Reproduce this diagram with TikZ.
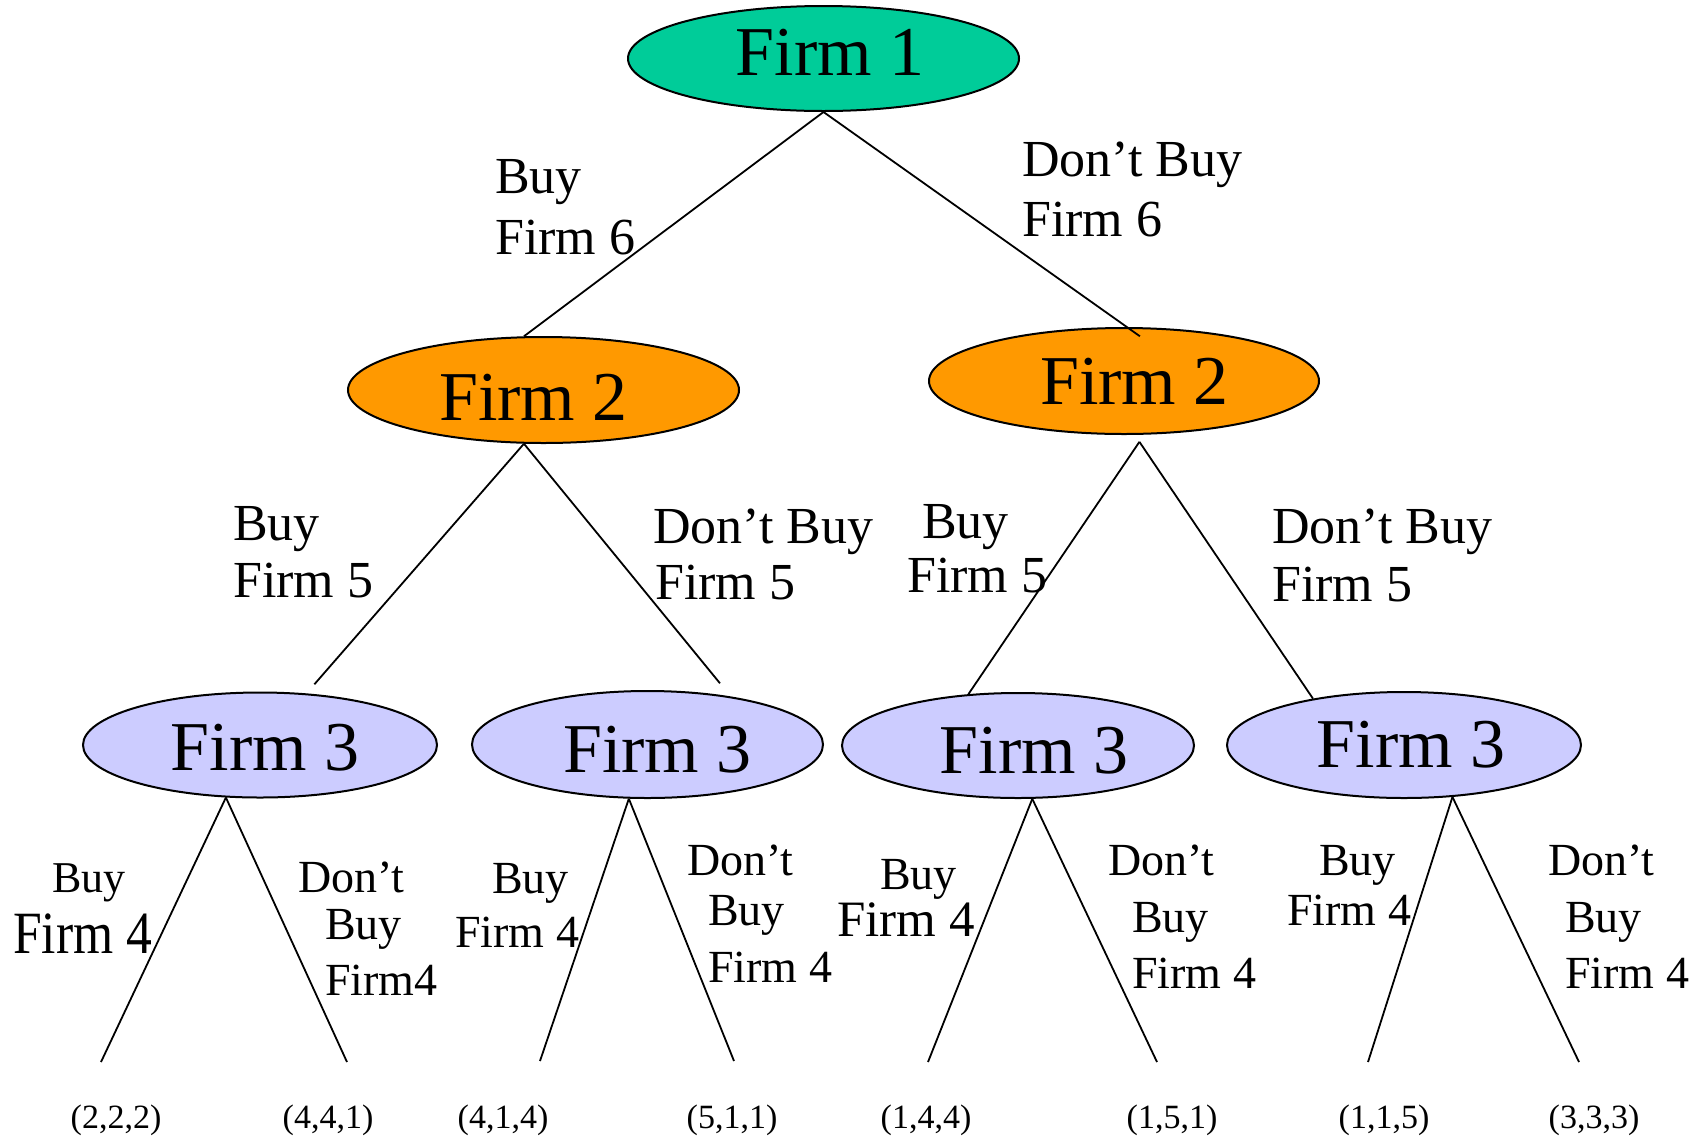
\documentclass[tikz,border=0pt]{standalone}
\usepackage{fontspec}
\setmainfont{Liberation Serif}
\usepackage{graphicx}
\usetikzlibrary{shapes.geometric}
\definecolor{firmgreen}{HTML}{00CC99}
\definecolor{firmorange}{HTML}{FF9900}
\definecolor{firmlav}{HTML}{CCCCFF}
\begin{document}
\begin{tikzpicture}[x=1pt,y=-1pt,
  firm/.style={ellipse, draw=black, line width=2pt, inner sep=0pt},
  firmtext/.style={anchor=base, inner sep=0pt, font=\fontsize{70}{80}\selectfont},
  lab/.style={anchor=base west, inner sep=0pt, font=\fontsize{52}{60}\selectfont},
  labs/.style={anchor=base west, inner sep=0pt, font=\fontsize{46}{52}\selectfont},
  pay/.style={anchor=base, inner sep=0pt, font=\fontsize{34}{40}\selectfont},
  edge/.style={line width=1.8pt}]
\useasboundingbox (0,0) rectangle (1698,1136);

% ellipses
\node[firm, fill=firmgreen, minimum width=391pt, minimum height=105pt] (f1) at (823.5,58.5) {};
\node[firm, fill=firmorange, minimum width=391pt, minimum height=106pt] (f2a) at (543.5,390) {};
\node[firm, fill=firmorange, minimum width=390pt, minimum height=106pt] (f2b) at (1124,381) {};
\node[firm, fill=firmlav, minimum width=354pt, minimum height=105pt] (f3a) at (260,745) {};
\node[firm, fill=firmlav, minimum width=351pt, minimum height=107pt] (f3b) at (647.5,744.5) {};
\node[firm, fill=firmlav, minimum width=352pt, minimum height=105pt] (f3c) at (1018,745.5) {};
\node[firm, fill=firmlav, minimum width=354pt, minimum height=106pt] (f3d) at (1404,745) {};

% ellipse texts
\node[firmtext] (t1) at (830,75) {Firm 1};
\node[firmtext] (t2a) at (533.5,420) {Firm 2};
\node[firmtext] (t2b) at (1134.5,404) {Firm 2};
\node[firmtext] (t3a) at (265,770) {Firm 3};
\node[firmtext] (t3b) at (657.5,772) {Firm 3};
\node[firmtext] (t3c) at (1034,773) {Firm 3};
\node[firmtext] (t3d) at (1411,767) {Firm 3};

% leaf end points
\coordinate (e1) at (101,1062);
\coordinate (e2) at (347,1062);
\coordinate (e3) at (540,1061);
\coordinate (e4) at (734,1061);
\coordinate (e5) at (928,1062);
\coordinate (e6) at (1157,1062);
\coordinate (e7) at (1368,1062);
\coordinate (e8) at (1579,1062);

% edges
\draw[edge] (f1.south) -- (f2a.110);
\draw[edge, shorten >=-16pt] (f1.south) -- (f2b.87);
\draw[edge, shorten >=12pt] (f2a.-110) -- (f3a.48);
\draw[edge, shorten >=17pt] (f2a.-110) -- (f3b.30);
\draw[edge] ([yshift=-7pt]f2b.-74) -- (f3c.134);
\draw[edge] ([yshift=-7pt]f2b.-74) -- (f3d.153);
\draw[edge] (f3a.-123) -- (e1);
\draw[edge] (f3a.-123) -- (e2);
\draw[edge] (f3b.-109) -- (e3);
\draw[edge] (f3b.-109) -- (e4);
\draw[edge] (f3c.-75) -- (e5);
\draw[edge] (f3c.-75) -- (e6);
\draw[edge] (f3d.-47) -- (e7);
\draw[edge] (f3d.-47) -- (e8);

% level 1 labels
\node[lab] (l1a) at (495,193) {Buy};
\node[lab] (l1b) at (495,254) {Firm 6};
\node[lab] (l2a) at (1022,176) {Don’t Buy};
\node[lab] (l2b) at (1022,236) {Firm 6};

% level 2 labels
\node[lab] (l3a) at (233,540) {Buy};
\node[lab] (l3b) at (233,597) {Firm 5};
\node[lab] (l4a) at (653,543) {Don’t Buy};
\node[lab] (l4b) at (655,599) {Firm 5};
\node[lab] (l5a) at (922,538) {Buy};
\node[lab] (l5b) at (907,592) {Firm 5};
\node[lab] (l6a) at (1272,543) {Don’t Buy};
\node[lab] (l6b) at (1272,601) {Firm 5};

% level 3 labels
\node[labs, font=\fontsize{44}{50}\selectfont] (m1a) at (52,892) {Buy};
\node[labs, font=\fontsize{60}{66}\selectfont] (m1b) at (13,953) {\scalebox{0.86}[1]{Firm 4}};
\node[labs] (m2a) at (298,892) {Don’t};
\node[labs] (m2b) at (325,939) {Buy};
\node[labs] (m2c) at (325,995) {Firm4};
\node[labs] (m3a) at (492,893) {Buy};
\node[labs] (m3b) at (455,947) {Firm 4};
\node[labs] (m4a) at (687,875) {Don’t};
\node[labs] (m4b) at (708,925) {Buy};
\node[labs] (m4c) at (708,982) {Firm 4};
\node[labs] (m5a) at (880,889) {Buy};
\node[labs, font=\fontsize{51}{56}\selectfont] (m5b) at (837,936) {Firm 4};
\node[labs] (m6a) at (1108,875) {Don’t};
\node[labs] (m6b) at (1132,932) {Buy};
\node[labs] (m6c) at (1132,988) {Firm 4};
\node[labs] (m7a) at (1319,875) {Buy};
\node[labs] (m7b) at (1287,925) {Firm 4};
\node[labs] (m8a) at (1548,875) {Don’t};
\node[labs] (m8b) at (1565,932) {Buy};
\node[labs] (m8c) at (1565,988) {Firm 4};

% payoffs
\node[pay] (p1) at (116,1128) {(2,2,2)};
\node[pay] (p2) at (328,1128) {(4,4,1)};
\node[pay] (p3) at (503,1128) {(4,1,4)};
\node[pay] (p4) at (732,1128) {(5,1,1)};
\node[pay] (p5) at (926,1128) {(1,4,4)};
\node[pay] (p6) at (1172,1128) {(1,5,1)};
\node[pay] (p7) at (1384,1128) {(1,1,5)};
\node[pay] (p8) at (1594,1128) {(3,3,3)};
\end{tikzpicture}
\end{document}
